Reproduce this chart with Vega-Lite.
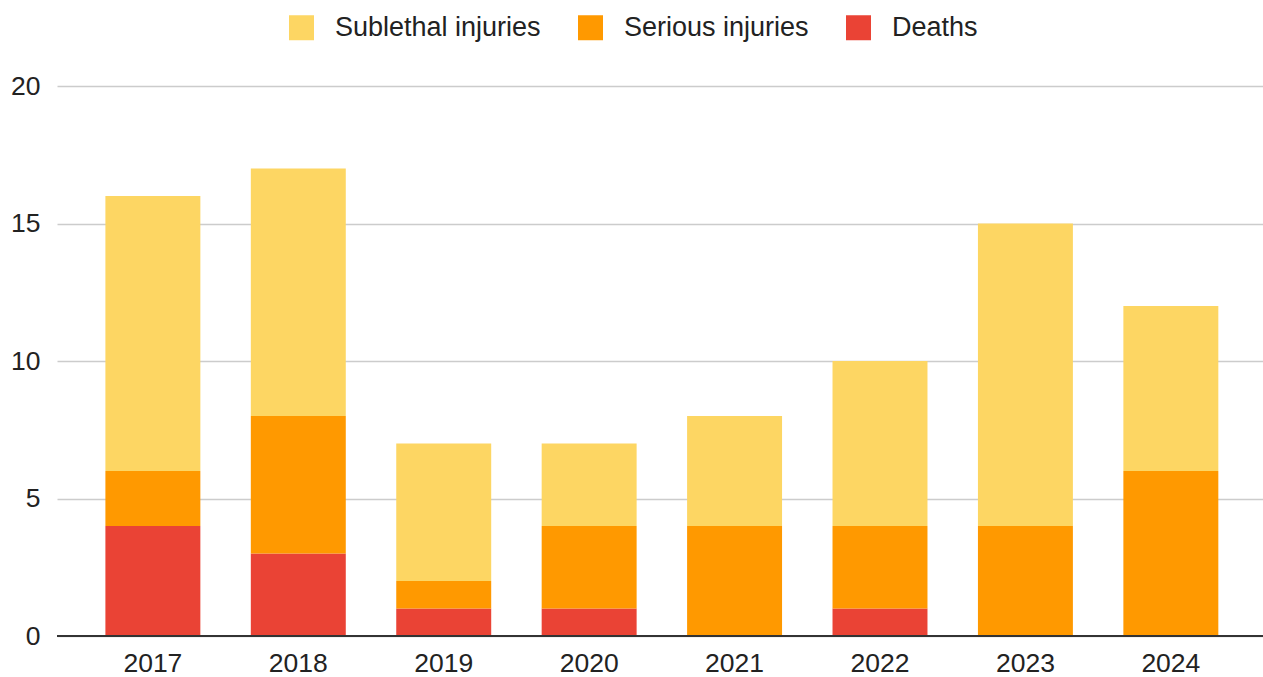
{
  "$schema": "https://vega.github.io/schema/vega-lite/v6.json",
  "width": 1206,
  "height": 550,
  "autosize": {"type": "none"},
  "padding": {"left": 57, "top": 86, "right": 0, "bottom": 41},
  "background": "white",
  "config": {
    "font": "Liberation Sans",
    "view": {"stroke": null}
  },
  "data": {
    "values": [
      {"year": "2017", "category": "Deaths", "count": 4, "rank": 1},
      {"year": "2017", "category": "Serious injuries", "count": 2, "rank": 2},
      {"year": "2017", "category": "Sublethal injuries", "count": 10, "rank": 3},
      {"year": "2018", "category": "Deaths", "count": 3, "rank": 1},
      {"year": "2018", "category": "Serious injuries", "count": 5, "rank": 2},
      {"year": "2018", "category": "Sublethal injuries", "count": 9, "rank": 3},
      {"year": "2019", "category": "Deaths", "count": 1, "rank": 1},
      {"year": "2019", "category": "Serious injuries", "count": 1, "rank": 2},
      {"year": "2019", "category": "Sublethal injuries", "count": 5, "rank": 3},
      {"year": "2020", "category": "Deaths", "count": 1, "rank": 1},
      {"year": "2020", "category": "Serious injuries", "count": 3, "rank": 2},
      {"year": "2020", "category": "Sublethal injuries", "count": 3, "rank": 3},
      {"year": "2021", "category": "Deaths", "count": 0, "rank": 1},
      {"year": "2021", "category": "Serious injuries", "count": 4, "rank": 2},
      {"year": "2021", "category": "Sublethal injuries", "count": 4, "rank": 3},
      {"year": "2022", "category": "Deaths", "count": 1, "rank": 1},
      {"year": "2022", "category": "Serious injuries", "count": 3, "rank": 2},
      {"year": "2022", "category": "Sublethal injuries", "count": 6, "rank": 3},
      {"year": "2023", "category": "Deaths", "count": 0, "rank": 1},
      {"year": "2023", "category": "Serious injuries", "count": 4, "rank": 2},
      {"year": "2023", "category": "Sublethal injuries", "count": 11, "rank": 3},
      {"year": "2024", "category": "Deaths", "count": 0, "rank": 1},
      {"year": "2024", "category": "Serious injuries", "count": 6, "rank": 2},
      {"year": "2024", "category": "Sublethal injuries", "count": 6, "rank": 3}
    ]
  },
  "layer": [
    {
      "mark": {"type": "bar"},
      "encoding": {
        "x": {
          "field": "year",
          "type": "ordinal",
          "scale": {"paddingInner": 0.347, "paddingOuter": 0.32, "align": 0.52},
          "axis": {
            "title": null,
            "labelAngle": 0,
            "ticks": false,
            "domain": false,
            "grid": false,
            "labelFontSize": 26.5,
            "labelColor": "#222222",
            "labelPadding": 14
          }
        },
        "y": {
          "field": "count",
          "type": "quantitative",
          "stack": "zero",
          "scale": {"domain": [0, 20]},
          "axis": {
            "title": null,
            "values": [0, 5, 10, 15, 20],
            "ticks": false,
            "domain": false,
            "grid": true,
            "gridColor": "#cccccc",
            "gridWidth": 1.5,
            "labelFontSize": 26.5,
            "labelColor": "#222222",
            "labelPadding": 17
          }
        },
        "color": {
          "field": "category",
          "type": "nominal",
          "scale": {
            "domain": ["Sublethal injuries", "Serious injuries", "Deaths"],
            "range": ["#fdd663", "#ff9900", "#ea4335"]
          },
          "legend": {
            "title": null,
            "orient": "none",
            "direction": "horizontal",
            "legendX": 231,
            "legendY": -72,
            "symbolType": "square",
            "symbolSize": 625,
            "symbolStrokeWidth": 0,
            "symbolOpacity": 1,
            "labelFontSize": 27,
            "labelLimit": 0,
            "labelColor": "#222222",
            "labelOffset": 20,
            "columnPadding": 36,
            "padding": 0
          }
        },
        "order": {"field": "rank", "type": "quantitative"}
      }
    },
    {
      "mark": {"type": "rule", "color": "#333333", "strokeWidth": 2},
      "encoding": {
        "y": {"datum": 0, "type": "quantitative"}
      }
    }
  ]
}
